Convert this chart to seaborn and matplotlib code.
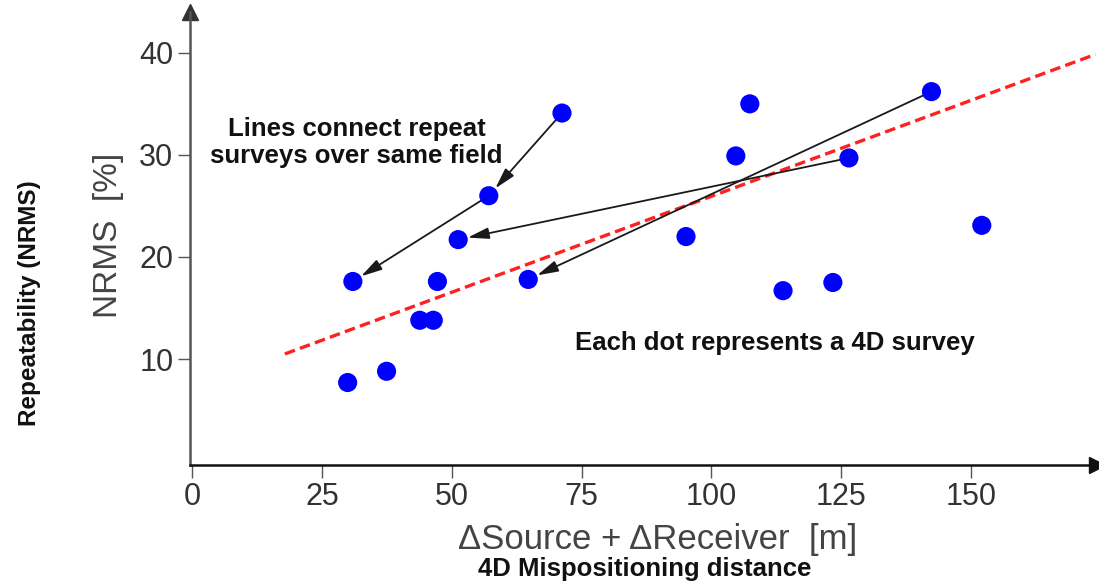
import numpy as np
import pandas as pd
import matplotlib
matplotlib.use("Agg")
import matplotlib.pyplot as plt
import seaborn as sns

# ---- data ----
mispositioning = [71.2, 57.1, 51.2, 30.9, 47.2, 64.7, 43.8, 46.4, 37.4, 29.9,
                  142.4, 107.4, 104.7, 126.5, 95.1, 152.1, 113.8, 123.4]
nrms = [34.1, 26.0, 21.7, 17.6, 17.6, 17.8, 13.8, 13.8, 8.8, 7.7,
        36.2, 35.0, 29.9, 29.7, 22.0, 23.1, 16.7, 17.5]

# repeat surveys over the same field (from -> to)
link_from_x = [71.2, 57.1, 126.5, 142.4]
link_from_y = [34.1, 26.0, 29.7, 36.2]
link_to_x = [57.1, 30.9, 51.2, 64.7]
link_to_y = [26.0, 17.6, 21.7, 17.8]

trend_x = [17.8, 174.0]
trend_y = [10.5, 39.85]

x_ticks = [0, 25, 50, 75, 100, 125, 150]
y_ticks = [10, 20, 30, 40]

df = pd.DataFrame({"dist": mispositioning, "nrms": nrms})
trend = pd.DataFrame({"x": trend_x, "y": trend_y})

sns.set_theme(style="white")
plt.rcParams["font.family"] = ["Liberation Sans", "DejaVu Sans"]

fig = plt.figure(figsize=(10.99, 5.87), dpi=100)
W, H = 1099, 587
ax = fig.add_axes([190 / W, 1 - 465 / H, (1097 - 190) / W, (465 - 12) / H])

sns.lineplot(data=trend, x="x", y="y", ax=ax, color="#ff2020", lw=2.4,
             dashes=False, zorder=2)
ax.lines[-1].set_dashes((3.2, 1.6))

for fx, fy, tx, ty in zip(link_from_x, link_from_y, link_to_x, link_to_y):
    ax.annotate("", xy=(tx, ty), xytext=(fx, fy),
                arrowprops=dict(arrowstyle="-|>,head_length=0.75,head_width=0.2",
                                color="#1a1a1a", lw=1.3,
                                mutation_scale=17, shrinkA=6, shrinkB=7),
                zorder=3)

sns.scatterplot(data=df, x="dist", y="nrms", ax=ax, color="#0000ff", s=190,
                edgecolor="none", zorder=4)

ax.set_xlim(-0.48, 174.3)
ax.set_ylim(-0.38, 44.0)
ax.set_xticks(x_ticks)
ax.set_yticks(y_ticks)
ax.set_xticklabels([str(v) for v in x_ticks])
ax.set_yticklabels([str(v) for v in y_ticks])
ax.tick_params(axis="both", direction="out", length=9, width=1.0,
               color="#555555", labelsize=22, labelcolor="#333333", pad=3)
ax.tick_params(axis="x", bottom=True)
ax.tick_params(axis="y", left=True)

for s in ["top", "right"]:
    ax.spines[s].set_visible(False)
ax.spines["left"].set_color("#555555")
ax.spines["left"].set_linewidth(1.8)
ax.spines["bottom"].set_color("#111111")
ax.spines["bottom"].set_linewidth(1.8)

# axis arrowheads
ax.plot([1], [0], marker=">", ms=11, color="#111111", transform=ax.transAxes,
        clip_on=False)
ax.plot([0], [1], marker="^", ms=11, color="#333333", transform=ax.transAxes,
        clip_on=False)

ax.set_xlabel("")
ax.set_ylabel("")

ax.text(31.6, 31.25, "Lines connect repeat\nsurveys over same field",
        ha="center", va="center", fontsize=18.5, fontweight="bold",
        color="#111111", linespacing=1.15)
ax.text(150.8, 11.6, "Each dot represents a 4D survey", ha="right",
        va="center", fontsize=18.5, fontweight="bold", color="#111111")

fig.text(108 / W, 1 - 235 / H, "NRMS  [%]", rotation=90, ha="center",
         va="center", fontsize=24, color="#444444")
fig.text(30 / W, 1 - 303 / H, "Repeatability (NRMS)", rotation=90,
         ha="center", va="center", fontsize=17.5, fontweight="bold",
         color="#111111")
fig.text(658 / W, 1 - 539 / H, "\u0394Source + \u0394Receiver  [m]",
         ha="center", va="center", fontsize=25, color="#444444")
fig.text(645 / W, 1 - 569 / H, "4D Mispositioning distance", ha="center",
         va="center", fontsize=18.5, fontweight="bold", color="#111111")

fig.savefig("out.png", dpi=100, facecolor="white")
